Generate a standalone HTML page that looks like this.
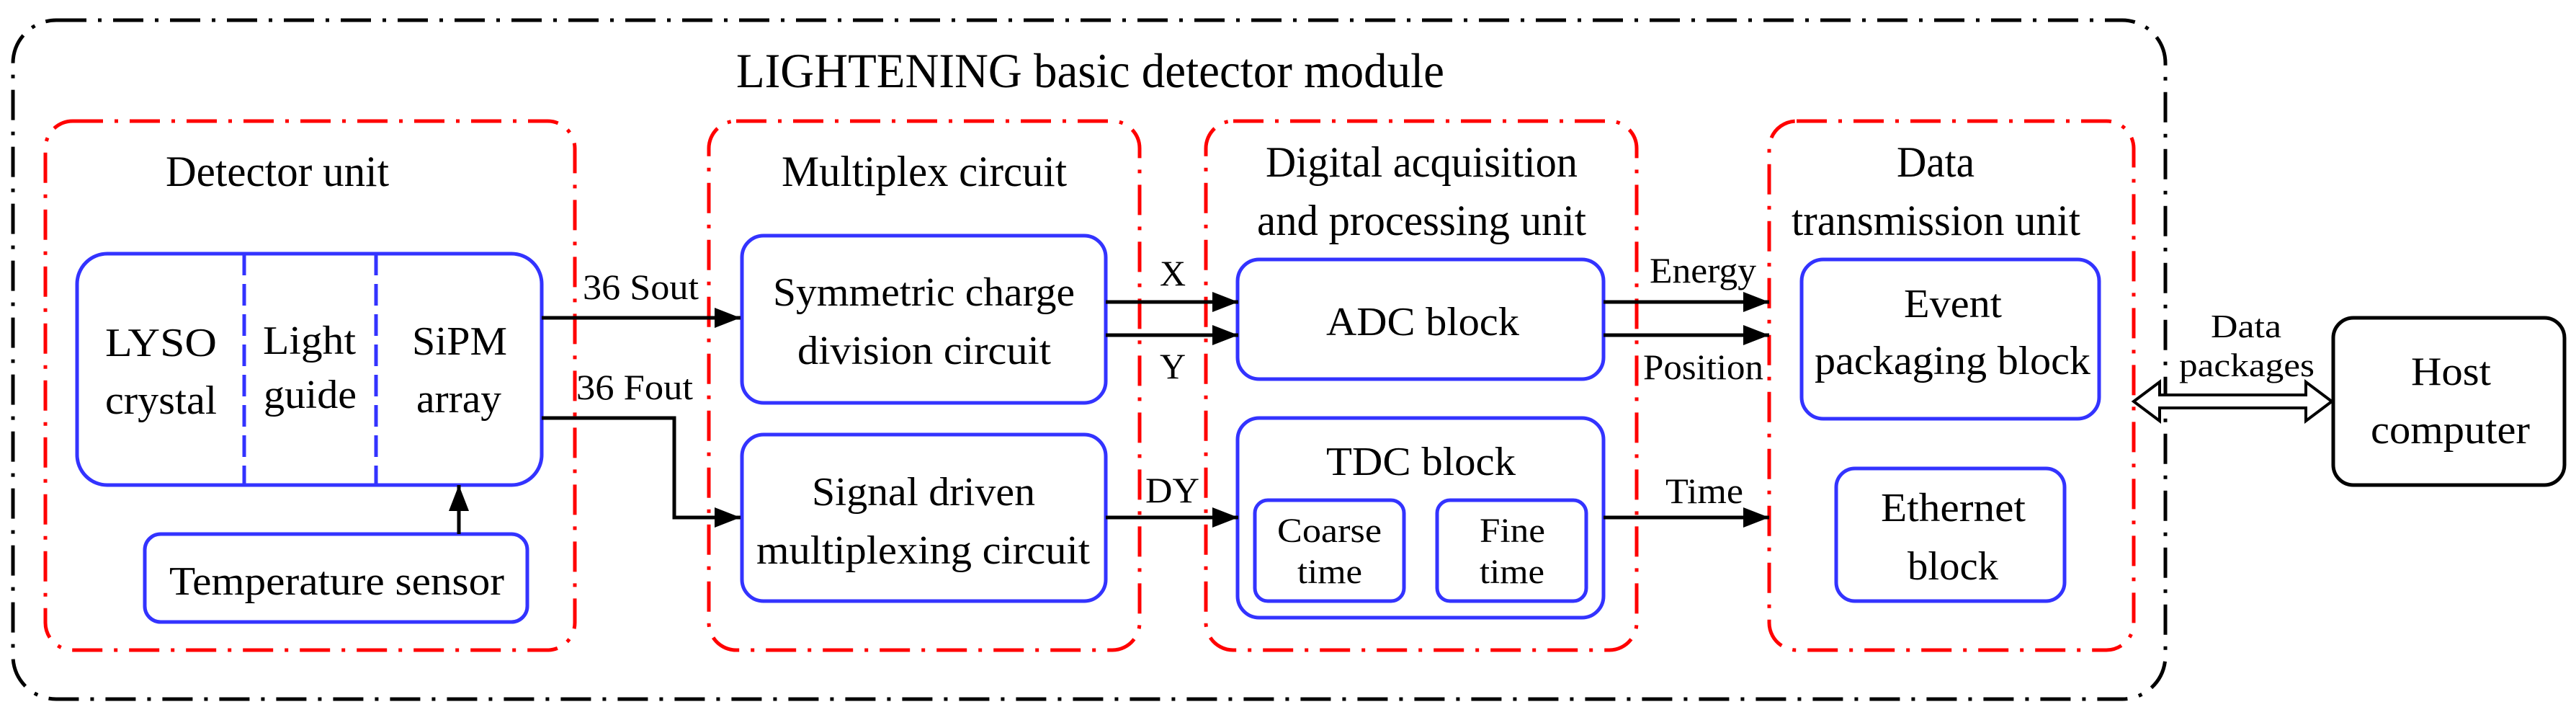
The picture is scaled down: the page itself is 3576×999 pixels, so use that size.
<!DOCTYPE html>
<html><head><meta charset="utf-8"><style>html,body{margin:0;padding:0;background:#fff}svg{display:block}svg text{font-family:"Liberation Serif","DejaVu Serif",serif !important;fill:#000}</style></head><body>
<svg width="3576" height="999" viewBox="0 0 3576 999" xmlns="http://www.w3.org/2000/svg" font-family="Liberation Serif, DejaVu Serif, serif">
<defs><marker id="ah" markerWidth="36" markerHeight="28" refX="36" refY="14" orient="auto" markerUnits="userSpaceOnUse"><path d="M0,0 L36,14 L0,28 Z" fill="#000"/></marker></defs>
<rect x="18" y="28" width="2988" height="942" rx="60" fill="none" stroke="#000" stroke-width="5" stroke-dasharray="42,16,5,16"/>
<g fill="none" stroke="#f00" stroke-width="5" stroke-dasharray="42,16,5,16">
<rect x="63" y="168" width="735" height="734" rx="38"/>
<rect x="984" y="168" width="598" height="734" rx="38"/>
<rect x="1674" y="168" width="598" height="734" rx="38"/>
<rect x="2456" y="168" width="506" height="734" rx="38"/>
</g>
<g fill="none" stroke="#3333ff" stroke-width="5">
<rect x="107" y="352" width="645" height="321" rx="42"/>
<line x1="339" y1="352" x2="339" y2="673" stroke-dasharray="30,12"/>
<line x1="522" y1="352" x2="522" y2="673" stroke-dasharray="30,12"/>
<rect x="201" y="741" width="531" height="122" rx="22"/>
<rect x="1030" y="327" width="505" height="232" rx="30"/>
<rect x="1030" y="603" width="505" height="231" rx="30"/>
<rect x="1718" y="360" width="508" height="166" rx="30"/>
<rect x="1718" y="580" width="508" height="277" rx="30"/>
<rect x="1742" y="694" width="207" height="140" rx="18"/>
<rect x="1995" y="694" width="207" height="140" rx="18"/>
<rect x="2501" y="360" width="413" height="221" rx="30"/>
<rect x="2549" y="650" width="317" height="184" rx="26"/>
</g>
<rect x="3239" y="441" width="321" height="232" rx="28" fill="none" stroke="#000" stroke-width="5"/>
<g stroke="#000" stroke-width="5" fill="none" marker-end="url(#ah)">
<line x1="637" y1="741" x2="637" y2="673"/>
<line x1="752" y1="441" x2="1028" y2="441"/>
<polyline points="752,580 936,580 936,718 1028,718"/>
<line x1="1535" y1="419" x2="1719" y2="419"/>
<line x1="1535" y1="465" x2="1719" y2="465"/>
<line x1="1535" y1="718" x2="1719" y2="718"/>
<line x1="2226" y1="419" x2="2456" y2="419"/>
<line x1="2226" y1="465" x2="2456" y2="465"/>
<line x1="2226" y1="718" x2="2456" y2="718"/>
</g>
<path d="M2962,557 L2998,530 L2998,548 L3201,548 L3201,530 L3237,557 L3201,584 L3201,566 L2998,566 L2998,584 Z" fill="#fff" stroke="#000" stroke-width="4"/>
<g font-size="56" font-family="Liberation Serif, DejaVu Serif, serif">
<text x="1022" y="121" font-size="68" textLength="983" lengthAdjust="spacingAndGlyphs">LIGHTENING basic detector module</text>
<text x="230" y="258" font-size="60" textLength="310" lengthAdjust="spacingAndGlyphs">Detector unit</text>
<text x="1085" y="258" font-size="60" textLength="396" lengthAdjust="spacingAndGlyphs">Multiplex circuit</text>
<text x="1757" y="245" font-size="60" textLength="433" lengthAdjust="spacingAndGlyphs">Digital acquisition</text>
<text x="1745" y="326" font-size="60" textLength="457" lengthAdjust="spacingAndGlyphs">and processing unit</text>
<text x="2633" y="245" font-size="60" textLength="108" lengthAdjust="spacingAndGlyphs">Data</text>
<text x="2487" y="326" font-size="60" textLength="401" lengthAdjust="spacingAndGlyphs">transmission unit</text>
<text x="146" y="494" textLength="155" lengthAdjust="spacingAndGlyphs">LYSO</text>
<text x="146" y="574" textLength="155" lengthAdjust="spacingAndGlyphs">crystal</text>
<text x="365" y="491" textLength="129" lengthAdjust="spacingAndGlyphs">Light</text>
<text x="366" y="566" textLength="129" lengthAdjust="spacingAndGlyphs">guide</text>
<text x="572" y="492" textLength="132" lengthAdjust="spacingAndGlyphs">SiPM</text>
<text x="578" y="572" textLength="118" lengthAdjust="spacingAndGlyphs">array</text>
<text x="235" y="825" textLength="465" lengthAdjust="spacingAndGlyphs">Temperature sensor</text>
<text x="809" y="415" font-size="50" textLength="161" lengthAdjust="spacingAndGlyphs">36 Sout</text>
<text x="800" y="554" font-size="50" textLength="162" lengthAdjust="spacingAndGlyphs">36 Fout</text>
<text x="1073" y="424" textLength="419" lengthAdjust="spacingAndGlyphs">Symmetric charge</text>
<text x="1107" y="505" textLength="352" lengthAdjust="spacingAndGlyphs">division circuit</text>
<text x="1127" y="701" textLength="310" lengthAdjust="spacingAndGlyphs">Signal driven</text>
<text x="1050" y="782" textLength="463" lengthAdjust="spacingAndGlyphs">multiplexing circuit</text>
<text x="1628" y="396" font-size="50" text-anchor="middle">X</text>
<text x="1628" y="525" font-size="50" text-anchor="middle">Y</text>
<text x="1590" y="697" font-size="50" textLength="75" lengthAdjust="spacingAndGlyphs">DY</text>
<text x="1841" y="465" textLength="268" lengthAdjust="spacingAndGlyphs">ADC block</text>
<text x="1841" y="659" textLength="263" lengthAdjust="spacingAndGlyphs">TDC block</text>
<text x="1773" y="752" font-size="48" textLength="145" lengthAdjust="spacingAndGlyphs">Coarse</text>
<text x="1801" y="809" font-size="48" textLength="90" lengthAdjust="spacingAndGlyphs">time</text>
<text x="2054" y="752" font-size="48" textLength="91" lengthAdjust="spacingAndGlyphs">Fine</text>
<text x="2054" y="809" font-size="48" textLength="90" lengthAdjust="spacingAndGlyphs">time</text>
<text x="2290" y="392" font-size="50" textLength="148" lengthAdjust="spacingAndGlyphs">Energy</text>
<text x="2281" y="526" font-size="50" textLength="167" lengthAdjust="spacingAndGlyphs">Position</text>
<text x="2312" y="698" font-size="50" textLength="108" lengthAdjust="spacingAndGlyphs">Time</text>
<text x="2643" y="440" textLength="136" lengthAdjust="spacingAndGlyphs">Event</text>
<text x="2519" y="519" textLength="383" lengthAdjust="spacingAndGlyphs">packaging block</text>
<text x="2611" y="723" textLength="201" lengthAdjust="spacingAndGlyphs">Ethernet</text>
<text x="2648" y="804" textLength="126" lengthAdjust="spacingAndGlyphs">block</text>
<text x="3069" y="468" font-size="46" textLength="98" lengthAdjust="spacingAndGlyphs">Data</text>
<text x="3025" y="522" font-size="46" textLength="188" lengthAdjust="spacingAndGlyphs">packages</text>
<text x="3347" y="534" textLength="111" lengthAdjust="spacingAndGlyphs">Host</text>
<text x="3291" y="615" textLength="221" lengthAdjust="spacingAndGlyphs">computer</text>
</g>
</svg>
</body></html>
